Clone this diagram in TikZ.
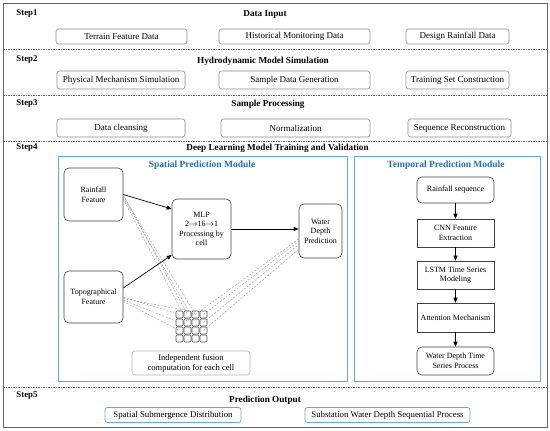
\documentclass[tikz,border=0pt]{standalone}
\usepackage{fontspec}
\setmainfont{Liberation Serif}
\usetikzlibrary{arrows.meta}
\definecolor{boxgray}{HTML}{8C8C8C}
\definecolor{modblue}{HTML}{5DA9E9}
\definecolor{titleblue}{HTML}{1E6FC9}
\begin{document}
\begin{tikzpicture}[x=1pt,y=-1pt,
  inbox/.style={draw=boxgray, rounded corners=2.5pt, line width=0.6pt, inner sep=0pt, font=\fontsize{9}{10.5}\selectfont, align=center},
  outbox/.style={draw=modblue, rounded corners=2.5pt, line width=0.8pt, inner sep=0pt, font=\fontsize{8.8}{10}\selectfont, align=center},
  steplabel/.style={font=\bfseries\fontsize{8.8}{10}\selectfont, inner sep=0pt},
  rowtitle/.style={font=\bfseries\fontsize{9.2}{11}\selectfont, inner sep=0pt},
  module/.style={draw=modblue, line width=0.8pt, inner sep=0pt},
  modtitle/.style={text=titleblue, font=\bfseries\fontsize{9.5}{11}\selectfont, inner sep=0pt},
  sbox/.style={draw=black!75, rounded corners=5pt, line width=0.6pt, align=center, font=\fontsize{8}{9.5}\selectfont, inner sep=0pt},
  tbox/.style={draw=black!75, line width=0.6pt, align=center, font=\fontsize{8}{9.5}\selectfont, inner sep=0pt, minimum width=77, minimum height=28},
  cellbox/.style={draw=black!70, rounded corners=1pt, minimum size=7pt, inner sep=0pt, line width=0.6pt},
  fade/.style={draw=black!40, dash pattern=on 2pt off 1.5pt, line width=0.45pt},
  arr/.style={-{Triangle[length=5pt,width=4pt]}, line width=0.7pt},
  sepline/.style={draw=black!60, dash pattern=on 1.5pt off 1pt, line width=0.6pt}
]
\useasboundingbox (0,0) rectangle (550,431);
\draw[black!60, line width=0.8pt] (3,3) rectangle (547,427);
\draw[sepline] (3,49) -- (547,49);
\draw[sepline] (3,95) -- (547,95);
\draw[sepline] (3,141) -- (547,141);
\draw[sepline] (3,387) -- (547,387);

% Step 1
\node[steplabel] (s1) at (27,14) {Step1};
\node[rowtitle] (t1) at (265,14) {Data Input};
\node[inbox, minimum width=131, minimum height=15] (b11) at (121.5,36.5) {Terrain Feature Data};
\node[inbox, minimum width=151, minimum height=15] (b12) at (294.5,36.5) {Historical Monitoring Data};
\node[inbox, minimum width=103, minimum height=15] (b13) at (457.5,36.5) {Design Rainfall Data};

% Step 2
\node[steplabel] (s2) at (27,60) {Step2};
\node[rowtitle] (t2) at (263,61) {Hydrodynamic Model Simulation};
\node[inbox, minimum width=128, minimum height=18] (b21) at (121,80) {Physical Mechanism Simulation};
\node[inbox, minimum width=151, minimum height=18] (b22) at (294.5,80) {Sample Data Generation};
\node[inbox, minimum width=103, minimum height=18] (b23) at (457.5,80) {Training Set Construction};

% Step 3
\node[steplabel] (s3) at (27,104) {Step3};
\node[rowtitle] (t3) at (268,104) {Sample Processing};
\node[inbox, minimum width=128, minimum height=18] (b31) at (121,128) {Data cleansing};
\node[inbox, minimum width=149, minimum height=18] (b32) at (295.5,128) {Normalization};
\node[inbox, minimum width=103, minimum height=18] (b33) at (459.5,128) {Sequence Reconstruction};

% Step 4
\node[steplabel] (s4) at (27,148) {Step4};
\node[rowtitle] (t4) at (277.5,148) {Deep Learning Model Training and Validation};
\node[module, minimum width=289, minimum height=225] (spatial) at (202.5,268.5) {};
\node[module, minimum width=186, minimum height=225] (temporal) at (447,268.5) {};
\node[modtitle] (spt) at (202,165) {Spatial Prediction Module};
\node[modtitle] (tpt) at (446,165) {Temporal Prediction Module};

% Spatial module
\node[sbox, minimum width=59, minimum height=53] (rain) at (93.5,194.5) {Rainfall\\Feature};
\node[sbox, minimum width=59, minimum height=52] (topo) at (93.5,297) {Topographical\\Feature};
\node[sbox, minimum width=59, minimum height=60] (mlp) at (201.5,229) {MLP\\2$\to$16$\to$1\\Processing by\\cell};
\node[sbox, minimum width=43, minimum height=54] (wdp) at (320.5,231) {Water\\Depth\\Prediction};
\foreach \i in {1,...,4}{
  \foreach \j in {1,...,4}{
    \node[cellbox] (c-\i-\j) at ({176+3.5+8*(\j-1)},{311+3.5+8*(\i-1)}) {};
  }
}
\node[draw=black!30, rounded corners=3pt, line width=0.6pt, inner sep=0pt, minimum width=118, minimum height=24, align=center, font=\fontsize{8.5}{10}\selectfont] (fusion) at (191,363) {Independent fusion\\computation for each cell};

\draw[fade] (rain.east) -- (c-1-2.center);
\draw[fade] ([yshift=-1.5pt]rain.east) -- (c-1-3.center);
\draw[fade] ([yshift=-3pt]rain.east) -- (c-2-3.center);
\draw[fade] ([yshift=-4.5pt]rain.east) -- (c-2-2.center);
\draw[fade] (topo.east) -- (c-1-1.center);
\draw[fade] ([yshift=-1.5pt]topo.east) -- (c-1-2.north);
\draw[fade] ([yshift=-3pt]topo.east) -- (c-2-1.center);
\draw[fade] ([yshift=-4.5pt]topo.east) -- (c-3-1.center);
\draw[fade] (c-1-3.center) -- (wdp.200);
\draw[fade] (c-1-4.center) -- (wdp.205);
\draw[fade] (c-2-4.center) -- (wdp.212);
\draw[fade] (c-3-4.center) -- (wdp.220);

\draw[arr] (rain.east) -- ([yshift=20pt]mlp.west);
\draw[arr] ([yshift=9pt]topo.east) -- ([yshift=-26pt]mlp.west);
\draw[arr] (mlp.east) -- (wdp.west |- mlp.east);

% Temporal module
\node[sbox, minimum width=77, minimum height=26] (rs) at (455.5,190) {Rainfall sequence};
\node[tbox] (cnn) at (455.5,233) {CNN Feature\\Extraction};
\node[tbox] (lstm) at (455.5,275) {LSTM Time Series\\Modeling};
\node[tbox, minimum height=29] (att) at (455.5,317.5) {Attention Mechanism};
\node[sbox, minimum width=77, minimum height=28] (wdt) at (455.5,361) {Water Depth Time\\Series Process};
\draw[arr] (rs) -- (cnn);
\draw[arr] (cnn) -- (lstm);
\draw[arr] (lstm) -- (att);
\draw[arr] (att) -- (wdt);

% Step 5
\node[steplabel] (s5) at (27,396) {Step5};
\node[rowtitle] (t5) at (265,400) {Prediction Output};
\node[outbox, minimum width=136, minimum height=15] (o1) at (173,415) {Spatial Submergence Distribution};
\node[outbox, minimum width=165, minimum height=15] (o2) at (387.5,415) {Substation Water Depth Sequential Process};
\end{tikzpicture}
\end{document}
